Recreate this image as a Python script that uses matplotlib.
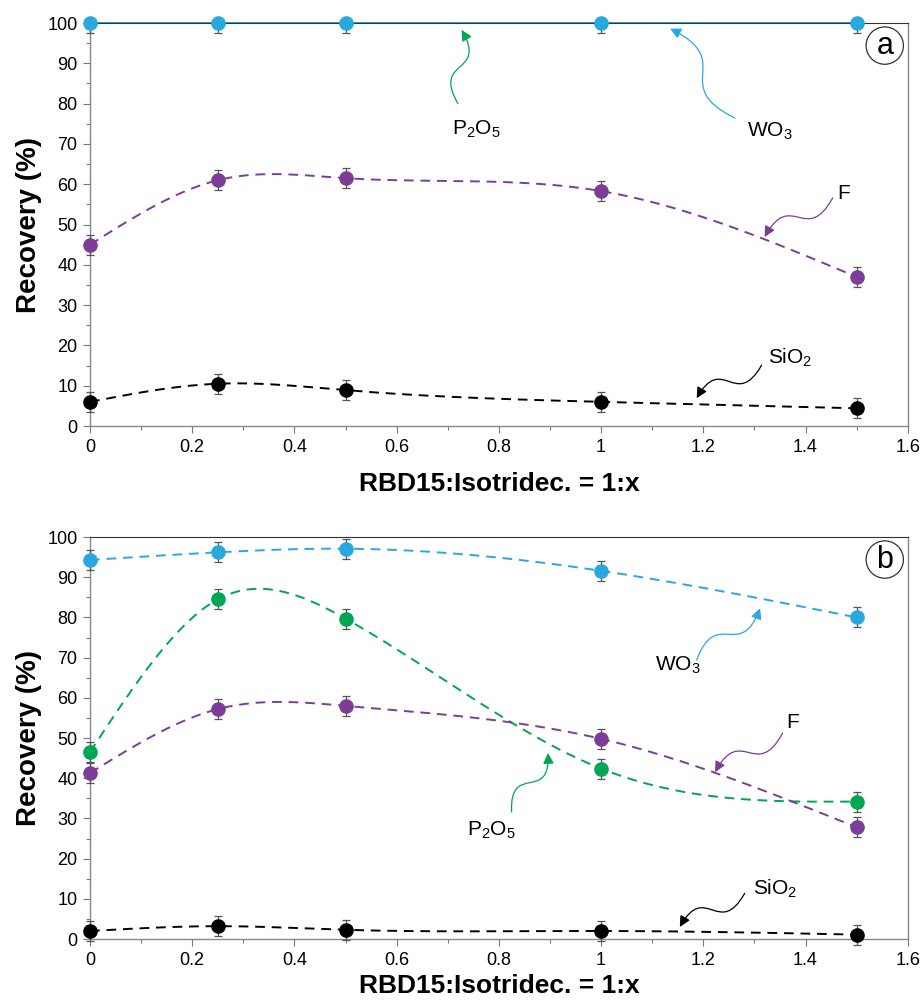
import numpy as np
import matplotlib
matplotlib.use("Agg")
import matplotlib.pyplot as plt
from matplotlib.path import Path
from matplotlib.patches import FancyArrowPatch
from matplotlib.ticker import MultipleLocator

plt.rcParams['font.family'] = ['Liberation Sans', 'DejaVu Sans']
plt.rcParams['mathtext.fontset'] = 'custom'
plt.rcParams['mathtext.rm'] = 'Liberation Sans'
plt.rcParams['mathtext.it'] = 'Liberation Sans'

# ratio RBD15:Isotridec. = 1:x
ratio = [0, 0.25, 0.5, 1, 1.5]

# panel a
wo3_a = [100, 100, 100, 100, 100]
p2o5_a = [100, 100, 100, 100, 100]
f_a = [45.0, 61.0, 61.5, 58.3, 37.0]
sio2_a = [6.0, 10.5, 8.9, 6.0, 4.4]

# panel b
wo3_b = [94.3, 96.2, 97.1, 91.6, 80.0]
p2o5_b = [46.5, 84.5, 79.7, 42.4, 34.2]
f_b = [41.3, 57.2, 58.0, 49.8, 27.8]
sio2_b = [2.0, 3.2, 2.3, 2.0, 1.1]

err = 2.5

BLUE = '#29a8e0'
GREEN = '#00a651'
PURPLE = '#7d3c98'
BLACK = '#000000'


def natural_spline(x, y, n=200):
    """Natural cubic spline through the points, for the smooth dashed lines."""
    x = np.asarray(x, float)
    y = np.asarray(y, float)
    k = len(x)
    h = np.diff(x)
    A = np.zeros((k, k))
    r = np.zeros(k)
    A[0, 0] = A[-1, -1] = 1
    for i in range(1, k - 1):
        A[i, i - 1] = h[i - 1]
        A[i, i] = 2 * (h[i - 1] + h[i])
        A[i, i + 1] = h[i]
        r[i] = 6 * ((y[i + 1] - y[i]) / h[i] - (y[i] - y[i - 1]) / h[i - 1])
    m = np.linalg.solve(A, r)
    xs = np.linspace(x[0], x[-1], n)
    idx = np.clip(np.searchsorted(x, xs) - 1, 0, k - 2)
    x0, x1 = x[idx], x[idx + 1]
    hh = x1 - x0
    a = (x1 - xs) / hh
    b = (xs - x0) / hh
    ys = a * y[idx] + b * y[idx + 1] + ((a ** 3 - a) * m[idx] + (b ** 3 - b) * m[idx + 1]) * hh ** 2 / 6
    return xs, ys


def series(ax, y, color, solid=False, yerr=None):
    if solid:
        ax.plot(ratio, y, color=color, lw=1.3, zorder=2, clip_on=False)
    else:
        xs, ys = natural_spline(ratio, y)
        ax.plot(xs, ys, color=color, lw=1.4, ls=(0, (5, 3.5)), zorder=2)
    if yerr is None:
        yerr = err
    ax.errorbar(ratio, y, yerr=yerr, fmt='none', ecolor='#555555', elinewidth=0.9,
                capsize=3, capthick=0.9, zorder=3, clip_on=False)
    ax.plot(ratio, y, 'o', color=color, ms=9.5, zorder=4, clip_on=False)


def wiggle_arrow(ax, start, tip, color, w=18):
    """Wavy arrow from label to curve, built in pixel space."""
    p0 = ax.transData.transform(start)
    p3 = ax.transData.transform(tip)
    d = p3 - p0
    perp = np.array([-d[1], d[0]]) / np.hypot(*d)
    p1 = p0 + d * 0.6 + perp * w * 2.2
    p2 = p0 + d * 0.4 - perp * w * 2.2
    verts = ax.transData.inverted().transform([p0, p1, p2, p3])
    path = Path(verts, [Path.MOVETO, Path.CURVE4, Path.CURVE4, Path.CURVE4])
    arr = FancyArrowPatch(path=path, arrowstyle='-|>', mutation_scale=16,
                          color=color, lw=0.9, zorder=5)
    ax.add_patch(arr)


def setup(ax, tag, pad):
    ax.set_xlim(0, 1.6)
    ax.set_ylim(0, 100)
    ax.xaxis.set_minor_locator(MultipleLocator(0.1))
    ax.yaxis.set_major_locator(MultipleLocator(10))
    ax.yaxis.set_minor_locator(MultipleLocator(5))
    ax.set_xticks([0, 0.2, 0.4, 0.6, 0.8, 1.0, 1.2, 1.4, 1.6])
    ax.set_xticklabels(['0', '0.2', '0.4', '0.6', '0.8', '1', '1.2', '1.4', '1.6'])
    ax.tick_params(which='major', direction='out', length=5, width=0.8, color='#777777',
                   labelsize=13, pad=4)
    ax.tick_params(which='minor', direction='out', length=3, width=0.8, color='#777777')
    for s in ['left', 'bottom', 'right']:
        ax.spines[s].set_color('#888888')
        ax.spines[s].set_linewidth(1.0)
    ax.spines['top'].set_color('#333333')
    ax.set_xlabel('RBD15:Isotridec. = 1:x', fontsize=19, fontweight='bold', labelpad=pad)
    ax.set_ylabel('Recovery (%)', fontsize=20, fontweight='bold', labelpad=4)
    ax.text(1.555, 94.4, tag, fontsize=22, ha='center', va='center', zorder=6,
            bbox=dict(boxstyle='circle,pad=0.12', fc='white', ec='#333333', lw=0.9))


fig = plt.figure(figsize=(9.23, 10.01), dpi=100)
ax1 = fig.add_axes([0.0975, 0.5744, 0.886, 0.4026])
ax2 = fig.add_axes([0.0975, 0.0619, 0.886, 0.4016])
setup(ax1, 'a', 12)
setup(ax2, 'b', 4)

# panel a
down_only = [[err] * 5, [0] * 5]
ax1.plot(ratio, p2o5_a, color=GREEN, lw=1.3, zorder=2, clip_on=False)
series(ax1, wo3_a, BLUE, solid=True, yerr=down_only)
series(ax1, f_a, PURPLE)
series(ax1, sio2_a, BLACK)

lab = dict(fontsize=15, ha='center', va='center')
ax1.text(0.755, 73.5, r'P$_2$O$_5$', **lab)
wiggle_arrow(ax1, (0.72, 80), (0.727, 98.3), GREEN, w=13)
ax1.text(1.33, 73.0, r'WO$_3$', **lab)
wiggle_arrow(ax1, (1.262, 76.4), (1.135, 98.6), BLUE, w=16)
ax1.text(1.475, 57.8, 'F', **lab)
wiggle_arrow(ax1, (1.453, 56.6), (1.32, 46.9), PURPLE, w=13)
ax1.text(1.37, 16.8, r'SiO$_2$', **lab)
wiggle_arrow(ax1, (1.314, 15.1), (1.187, 6.9), BLACK, w=13)

# panel b
series(ax2, wo3_b, BLUE)
series(ax2, p2o5_b, GREEN)
series(ax2, f_b, PURPLE)
series(ax2, sio2_b, BLACK)

ax2.text(1.15, 68.0, r'WO$_3$', **lab)
wiggle_arrow(ax2, (1.187, 69.4), (1.311, 82.3), BLUE, w=13)
ax2.text(1.375, 53.8, 'F', **lab)
wiggle_arrow(ax2, (1.355, 51.2), (1.223, 41.5), PURPLE, w=13)
ax2.text(0.785, 27.0, r'P$_2$O$_5$', **lab)
wiggle_arrow(ax2, (0.825, 31.6), (0.896, 46.3), GREEN, w=13)
ax2.text(1.34, 12.4, r'SiO$_2$', **lab)
wiggle_arrow(ax2, (1.281, 11.4), (1.154, 3.0), BLACK, w=13)

fig.savefig('out.png', dpi=100)
